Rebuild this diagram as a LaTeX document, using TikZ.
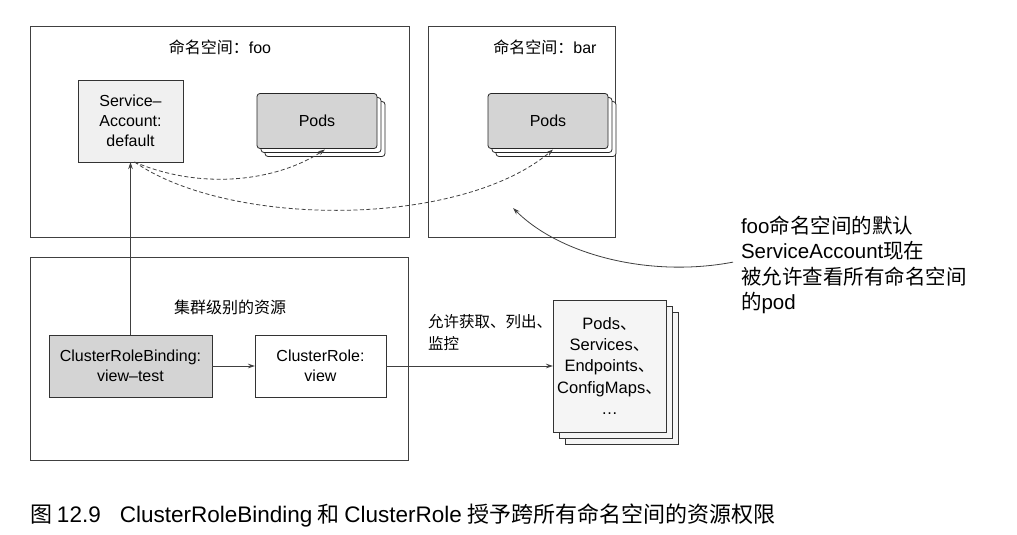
\documentclass[tikz,border=0pt]{standalone}
\usepackage{fontspec}
\setmainfont{Liberation Sans}
\newfontfamily\cjk{Noto Sans CJK SC}
\usetikzlibrary{arrows.meta,calc}
\begin{document}
\begin{tikzpicture}[x=1pt,y=-1pt,
  every node/.style={inner sep=0pt,outer sep=0pt},
  region/.style={draw=black!75,line width=0.9pt},
  txt/.style={font=\fontsize{16}{20}\selectfont,align=center},
  sabox/.style={draw=black!80,line width=0.8pt,fill=black!6,minimum width=105pt,minimum height=82pt,txt},
  podbox/.style={draw=black!85,line width=0.8pt,rounded corners=3pt,minimum width=120pt,minimum height=55pt},
  grayfill/.style={fill=black!17},
  plainbox/.style={draw=black!80,line width=0.8pt,minimum width=131pt,minimum height=62pt,txt},
  resbox/.style={draw=black!80,line width=0.8pt,fill=black!4,minimum width=113pt,minimum height=132pt},
  arr/.style={-{Stealth[length=7pt,width=4.5pt]},draw=black!75,line width=0.8pt},
  darr/.style={arr,dashed,dash pattern=on 4pt off 2.5pt}
]
\useasboundingbox (0,0) rectangle (1017,535);
\fill[white] (0,0) rectangle (1017,535);

% regions
\draw[region] (30,26) rectangle (409,237);
\draw[region] (428,26) rectangle (615,237);
\draw[region] (30,257) rectangle (408,460);

\node[font=\fontsize{16}{20}\selectfont] (tfoo) at (220,47) {{\cjk 命名空间：}foo};
\node[font=\fontsize{16}{20}\selectfont] (tbar) at (545,47) {{\cjk 命名空间：}bar};
\node[font=\fontsize{16}{20}\selectfont] (tcl) at (230,307) {\cjk 集群级别的资源};

% ServiceAccount
\node[sabox] (sa) at (130.5,121) {Service–\\Account:\\default};

% Pods foo
\node[podbox,fill=white] (pf2) at (325,129) {};
\node[podbox,fill=white] (pf1) at (321,125) {};
\node[podbox,grayfill,txt] (podsfoo) at (317,121) {Pods};

% Pods bar
\node[podbox,fill=white] (pb2) at (556,129) {};
\node[podbox,fill=white] (pb1) at (552,125) {};
\node[podbox,grayfill,txt] (podsbar) at (548,121) {Pods};

% Cluster-level
\node[plainbox,grayfill,minimum width=163pt] (crb) at (130.5,366) {ClusterRoleBinding:\\view–test};
\node[plainbox,fill=white] (cr) at (320.5,366) {ClusterRole:\\view};

% resources
\node[resbox] (r2) at (621.5,378) {};
\node[resbox] (r1) at (615.5,372) {};
\node[resbox,font=\fontsize{16.5}{21.2}\selectfont,align=center] (res) at (609.5,366)
  {Pods{\cjk 、}\\Services{\cjk 、}\\Endpoints{\cjk 、}\\ConfigMaps{\cjk 、}\\…};

% connectors
\draw[arr] (crb.north) -- (sa.south);
\draw[arr] (crb.east) -- (cr.west);
\draw[arr] (cr.east) -- (res.west);
\node[font=\fontsize{15.5}{22}\selectfont\cjk,align=left,anchor=north west] (lbl) at (428,314) {允许获取、列出、\\监控};

\draw[darr] ([xshift=4pt]sa.south) .. controls (200,190) and (275,182) .. ([xshift=8pt,yshift=-1pt]podsfoo.south);
\draw[darr] ([xshift=4pt]sa.south) .. controls (230,228) and (460,228) .. ([xshift=5pt,yshift=-1pt]podsbar.south);

% annotation
\node[font=\fontsize{20.5}{25.5}\selectfont,align=left,anchor=north west] (note) at (741,216)
  {foo{\cjk 命名空间的默认}\\ServiceAccount{\cjk 现在}\\{\cjk 被允许查看所有命名空间}\\{\cjk 的}pod};
\coordinate (tip) at (513,208);
\draw[arr] ([xshift=-8pt,yshift=3pt]note.west) .. controls (650,278) and (560,255) .. (tip);

% caption
\node[font=\fontsize{22.5}{26}\selectfont,anchor=west] (cap) at (30,515)
  {{\cjk\fontsize{22}{26}\selectfont 图}\hspace{5pt}12.9\hspace{19pt}ClusterRoleBinding\hspace{5pt}{\cjk\fontsize{22}{26}\selectfont 和}\hspace{5pt}ClusterRole\hspace{6pt}{\cjk\fontsize{22}{26}\selectfont 授予跨所有命名空间的资源权限}};
\end{tikzpicture}
\end{document}
